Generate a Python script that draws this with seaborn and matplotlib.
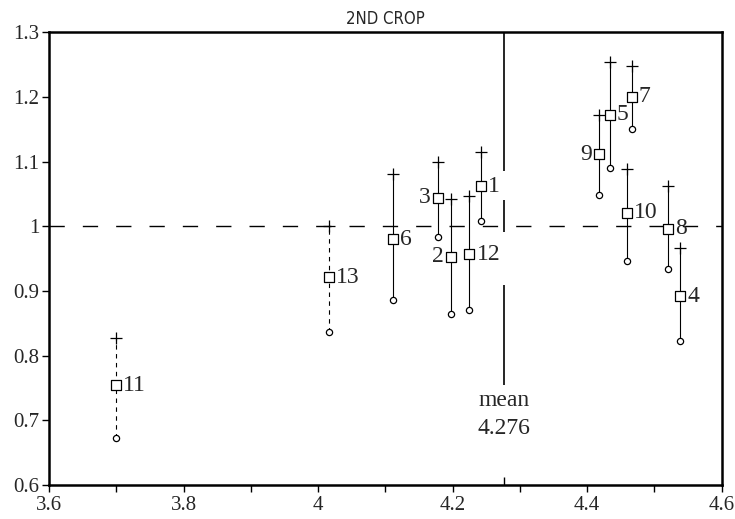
import numpy as np
import pandas as pd
import matplotlib
matplotlib.use("Agg")
import matplotlib.pyplot as plt
import seaborn as sns

# plot numbers and their mean / upper / lower values
plots = ["1", "2", "3", "4", "5", "6", "7", "8", "9", "10", "11", "12", "13"]
x_vals = [4.242, 4.197, 4.178, 4.538, 4.434, 4.112, 4.466, 4.520, 4.418, 4.459, 3.700, 4.225, 4.016]
y_mid = [1.062, 0.953, 1.044, 0.892, 1.172, 0.980, 1.200, 0.996, 1.111, 1.021, 0.754, 0.957, 0.921]
y_hi = [1.115, 1.042, 1.100, 0.967, 1.254, 1.080, 1.248, 1.062, 1.172, 1.088, 0.828, 1.046, 1.000]
y_lo = [1.008, 0.865, 0.983, 0.822, 1.090, 0.886, 1.150, 0.934, 1.049, 0.947, 0.672, 0.870, 0.836]
dashed = ["11", "13"]
left_labels = ["2", "3", "9"]

mean_x = 4.276
mean_segments = [(1.085, 1.3), (0.991, 1.040), (0.754, 0.909)]

df = pd.DataFrame({"plot": plots, "x": x_vals, "mid": y_mid, "hi": y_hi, "lo": y_lo})

sns.set_style("white")
plt.rcParams["font.family"] = ["Liberation Serif", "DejaVu Serif"]

fig = plt.figure(figsize=(7.35, 5.19), dpi=100)
ax = fig.add_axes([0.0667, 0.0655, 0.9153, 0.8725])

# reference lines
ax.axhline(1.0, color="black", lw=1.0, dashes=(11, 13), zorder=1)
for lo, hi in mean_segments:
    ax.vlines(mean_x, lo, hi, color="black", lw=1.2, zorder=1)
ax.vlines(mean_x, 0.6, 0.612, color="black", lw=1.0)

# range bars
for _, r in df.iterrows():
    ls = (0, (4, 4)) if r["plot"] in dashed else "-"
    ax.plot([r["x"], r["x"]], [r["lo"], r["hi"]], color="black", lw=0.8,
            linestyle=ls, zorder=2)

sns.scatterplot(data=df, x="x", y="hi", marker="+", s=70, color="black",
                linewidth=0.9, ax=ax, zorder=3)
sns.scatterplot(data=df, x="x", y="lo", marker="o", s=20, facecolor="white",
                edgecolor="black", linewidth=0.9, ax=ax, zorder=3)
sns.scatterplot(data=df, x="x", y="mid", marker="s", s=55, facecolor="white",
                edgecolor="black", linewidth=0.9, ax=ax, zorder=4)

for _, r in df.iterrows():
    if r["plot"] in left_labels:
        ax.annotate(r["plot"], (r["x"], r["mid"]), xytext=(-5, 0),
                    textcoords="offset points", ha="right", va="center",
                    fontsize=17)
    else:
        ax.annotate(r["plot"], (r["x"], r["mid"]), xytext=(5, 0),
                    textcoords="offset points", ha="left", va="center",
                    fontsize=17)

ax.text(mean_x, 0.731, "mean", ha="center", va="center", fontsize=17)
ax.text(mean_x, 0.688, "4.276", ha="center", va="center", fontsize=17)

ax.set_xlim(3.6, 4.6)
ax.set_ylim(0.6, 1.3)
ax.set_xticks([3.6, 3.8, 4.0, 4.2, 4.4, 4.6])
ax.set_xticklabels(["3.6", "3.8", "4", "4.2", "4.4", "4.6"])
ax.set_xticks([3.7, 3.9, 4.1, 4.3, 4.5], minor=True)
ax.set_yticks([0.6, 0.7, 0.8, 0.9, 1.0, 1.1, 1.2, 1.3])
ax.set_yticklabels(["0.6", "0.7", "0.8", "0.9", "1", "1.1", "1.2", "1.3"])
ax.tick_params(axis="both", which="both", direction="out", length=5,
               width=1, color="black", labelsize=15, bottom=True, left=True)
ax.tick_params(axis="x", pad=3)
ax.tick_params(axis="y", pad=2)
ax.set_xlabel("")
ax.set_ylabel("")
for side in ax.spines.values():
    side.set_color("black")
    side.set_linewidth(1.8)
ax.set_title("2ND CROP", fontsize=12, pad=6, family="DejaVu Sans",
             fontstretch="condensed")

fig.savefig("out.png", dpi=100)
